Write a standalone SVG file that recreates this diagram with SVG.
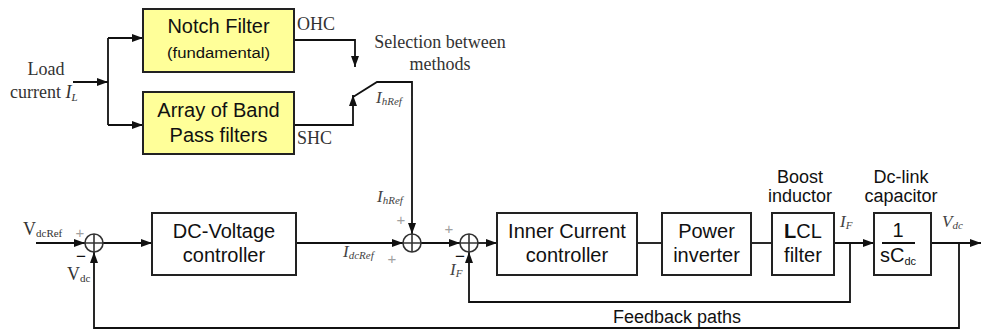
<svg xmlns="http://www.w3.org/2000/svg" width="981" height="336" viewBox="0 0 981 336">
<defs>
<style>
.box{fill:#fff;stroke:#222;stroke-width:2}
.ybox{fill:#ffff99;stroke:#222;stroke-width:2}
.ln{fill:none;stroke:#111;stroke-width:1.8}
.sum{fill:#fff;stroke:#333;stroke-width:1.6}
.bl{font-family:"Liberation Sans",Arial,sans-serif;font-size:20px;fill:#111;text-anchor:middle}
.sl{font-family:"Liberation Sans",Arial,sans-serif;font-size:18px;fill:#111;text-anchor:middle}
.tl{font-family:"Liberation Serif","Times New Roman",serif;font-size:18px;fill:#333}
.il{font-family:"Liberation Serif","Times New Roman",serif;font-size:17px;font-style:italic;fill:#444}
.sub{font-size:11px}
.pl{font-family:"Liberation Sans",Arial,sans-serif;font-size:15px;fill:#a0a0a0;text-anchor:middle}
.mn{font-family:"Liberation Sans",Arial,sans-serif;font-size:17px;fill:#111;text-anchor:middle}
</style>
<marker id="ar" markerWidth="11" markerHeight="8" refX="11" refY="4" orient="auto" markerUnits="userSpaceOnUse">
<path d="M0,0 L11,4 L0,8 Z" fill="#111"/>
</marker>
</defs>

<g id="connectors">
<path class="ln" d="M73,82 H108" marker-end="url(#ar)"/>
<path class="ln" d="M108,38 V125"/>
<path class="ln" d="M108,38 H143" marker-end="url(#ar)"/>
<path class="ln" d="M108,125 H143" marker-end="url(#ar)"/>
<path class="ln" d="M294,40 H355 V67" marker-end="url(#ar)"/>
<path class="ln" d="M294,125 H353 V95" marker-end="url(#ar)"/>
<path class="ln" d="M353,97 L377,82 H412 V234" marker-end="url(#ar)"/>
<path class="ln" d="M36,243 H85" marker-end="url(#ar)"/>
<path class="ln" d="M103,243 H152" marker-end="url(#ar)"/>
<path class="ln" d="M296,243 H403" marker-end="url(#ar)"/>
<path class="ln" d="M421,243 H460" marker-end="url(#ar)"/>
<path class="ln" d="M478,243 H497" marker-end="url(#ar)"/>
<path class="ln" d="M637,243 H662"/>
<path class="ln" d="M751,243 H772"/>
<path class="ln" d="M834,243 H874" marker-end="url(#ar)"/>
<path class="ln" d="M931,243 H981" marker-end="url(#ar)"/>
<path class="ln" d="M850,243 V302 H469 V252" marker-end="url(#ar)"/>
<path class="ln" d="M959,243 V328 H94 V252" marker-end="url(#ar)"/>
</g>

<g id="notch">
<rect class="ybox" x="143" y="9" width="151" height="63"/>
<text class="bl" x="218.5" y="33">Notch Filter</text>
<text class="bl" x="218.5" y="58" style="font-size:14px" textLength="103" lengthAdjust="spacingAndGlyphs">(fundamental)</text>
</g>
<g id="bandpass">
<rect class="ybox" x="143" y="92" width="151" height="62"/>
<text class="bl" x="218.5" y="117">Array of Band</text>
<text class="bl" x="218.5" y="142">Pass filters</text>
</g>
<g id="dcv">
<rect class="box" x="152" y="213" width="144" height="62"/>
<text class="bl" x="224" y="238">DC-Voltage</text>
<text class="bl" x="224" y="262">controller</text>
</g>
<g id="icc">
<rect class="box" x="497" y="213" width="140" height="62"/>
<text class="bl" x="567" y="238">Inner Current</text>
<text class="bl" x="567" y="262">controller</text>
</g>
<g id="inv">
<rect class="box" x="662" y="213" width="89" height="62"/>
<text class="bl" x="706.5" y="238">Power</text>
<text class="bl" x="706.5" y="262">inverter</text>
</g>
<g id="lcl">
<rect class="box" x="772" y="213" width="62" height="62"/>
<text class="bl" x="803" y="238"><tspan font-weight="bold">L</tspan>CL</text>
<text class="bl" x="803" y="262">filter</text>
<text class="sl" x="800" y="183">Boost</text>
<text class="sl" x="800" y="202">inductor</text>
</g>
<g id="cap">
<rect class="box" x="874" y="213" width="57" height="62"/>
<text class="bl" x="898" y="237">1</text>
<line x1="882" y1="243" x2="915" y2="243" stroke="#111" stroke-width="1.8"/>
<text class="bl" x="898" y="262">sC<tspan style="font-size:11px" dy="3">dc</tspan></text>
<text class="sl" x="901" y="183">Dc-link</text>
<text class="sl" x="901" y="202">capacitor</text>
</g>

<g id="sum1">
<circle class="sum" cx="94" cy="243" r="9"/>
<path class="sum" d="M85,243 H103 M94,234 V252"/>
</g>
<g id="sum2">
<circle class="sum" cx="412" cy="243" r="9"/>
<path class="sum" d="M403,243 H421 M412,234 V252"/>
</g>
<g id="sum3">
<circle class="sum" cx="469" cy="243" r="9"/>
<path class="sum" d="M460,243 H478 M469,234 V252"/>
</g>

<g id="labels">
<text class="tl" x="46" y="75" text-anchor="middle">Load</text>
<text class="tl" x="10" y="98">current <tspan font-style="italic">I<tspan class="sub" dy="3">L</tspan></tspan></text>
<text class="tl" x="297" y="30">OHC</text>
<text class="tl" x="297" y="144">SHC</text>
<text class="tl" x="440" y="48" text-anchor="middle">Selection between</text>
<text class="tl" x="440" y="70" text-anchor="middle">methods</text>
<text class="il" x="376" y="103">I<tspan class="sub" dy="2">hRef</tspan></text>
<text class="il" x="377" y="202">I<tspan class="sub" dy="2">hRef</tspan></text>
<text class="il" x="343" y="257">I<tspan class="sub" dy="2">dcRef</tspan></text>
<text class="il" x="450" y="275">I<tspan class="sub" dy="2">F</tspan></text>
<text class="il" x="840" y="227">I<tspan class="sub" dy="2">F</tspan></text>
<text class="il" x="942" y="227">V<tspan class="sub" dy="2">dc</tspan></text>
<text class="tl" x="23" y="235">V<tspan class="sub" dy="2">dcRef</tspan></text>
<text class="tl" x="67" y="280">V<tspan class="sub" dy="2">dc</tspan></text>
<text class="pl" x="80" y="238">+</text>
<text class="mn" x="81" y="262">−</text>
<text class="pl" x="401" y="225">+</text>
<text class="pl" x="392" y="264">+</text>
<text class="pl" x="449" y="234">+</text>
<text class="mn" x="460" y="262">−</text>
<text class="sl" x="677" y="323">Feedback paths</text>
</g>
</svg>
